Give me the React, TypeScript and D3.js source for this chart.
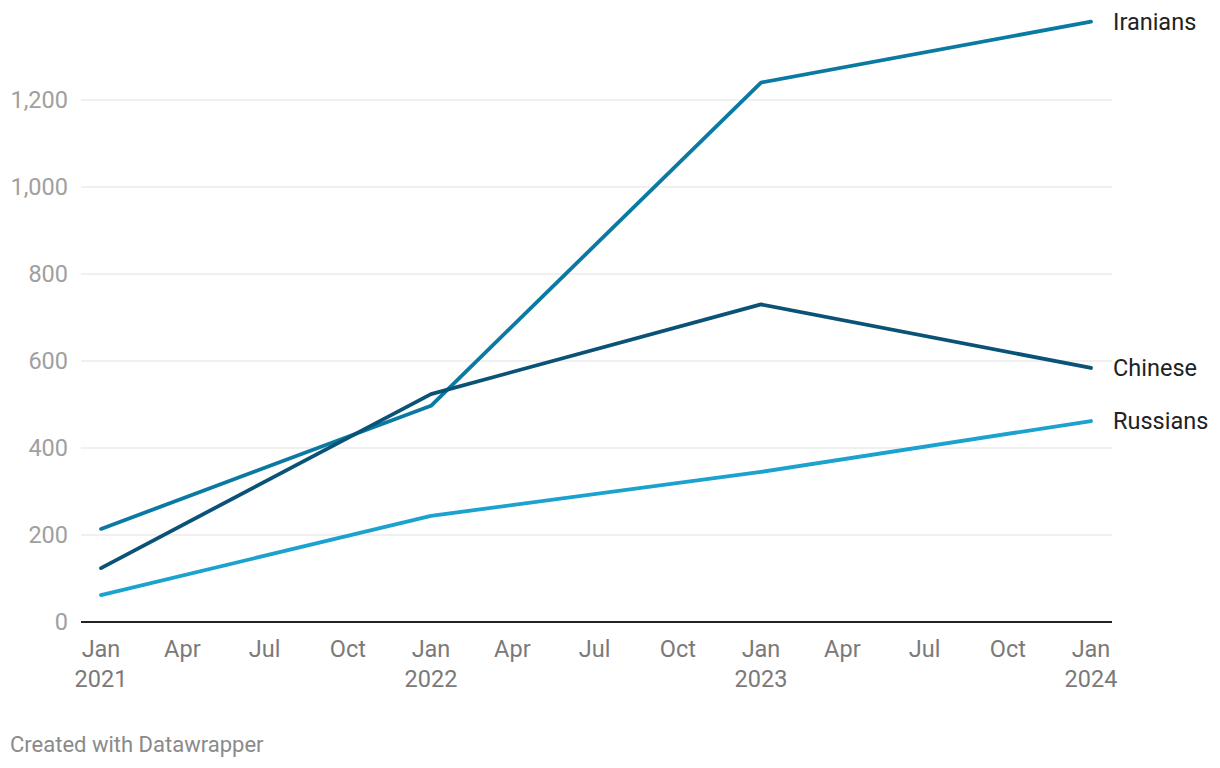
import * as d3 from 'd3'

// ── data ─────────────────────────────────────────────────────────────────────
const years     = [2021, 2022, 2023, 2024]
const iranians  = [214, 497, 1240, 1380]
const chinese   = [124, 524, 730, 584]
const russians  = [62, 244, 345, 462]
const yTicks    = [0, 200, 400, 600, 800, 1000, 1200]

const SERIES = [
  { name: 'Iranians', values: iranians, color: '#0a7aa3' },
  { name: 'Chinese',  values: chinese,  color: '#0b5277' },
  { name: 'Russians', values: russians, color: '#1ba2cf' },
]

// ── constants ────────────────────────────────────────────────────────────────
const W      = 1220
const H      = 768
const FONT   = 'Roboto, "Noto Sans", sans-serif'
const GRID_L = 81
const GRID_R = 1112

const x = d3.scaleTime()
  .domain([new Date(2021, 0, 1), new Date(2024, 0, 1)])
  .range([101, 1091])
const y = d3.scaleLinear().domain([0, 1200]).range([622, 100])

const monthTicks = x.ticks(d3.timeMonth.every(3)!)
const fmtMonth   = d3.timeFormat('%b')

export default function App() {
  const line = d3.line<{ date: Date; v: number }>()
    .x(d => x(d.date))
    .y(d => y(d.v))

  return (
    <svg width={W} height={H} style={{ position: 'absolute', left: 0, top: 0, display: 'block', background: '#fff' }}
      fontFamily={FONT}>
      {/* grid */}
      {yTicks.filter(t => t > 0).map(t => (
        <line key={t} x1={GRID_L} x2={GRID_R} y1={y(t)} y2={y(t)} stroke="#e1e1e1" strokeWidth={1} />
      ))}
      {yTicks.map(t => (
        <text key={t} x={68} y={y(t)} dy="0.36em" textAnchor="end" fontSize={23.5} fill="#a0a0a0">
          {d3.format(',')(t)}
        </text>
      ))}

      {/* x axis */}
      {monthTicks.map(d => (
        <text key={+d} x={x(d)} y={657} textAnchor="middle" fontSize={23.5} fill="#7a7a7a">
          <tspan x={x(d)}>{fmtMonth(d)}</tspan>
          {d.getMonth() === 0 && <tspan x={x(d)} dy={30}>{d.getFullYear()}</tspan>}
        </text>
      ))}

      {/* lines */}
      {SERIES.map(s => {
        const pts = s.values.map((v, i) => ({ date: new Date(years[i], 0, 1), v }))
        const last = pts[pts.length - 1]
        return (
          <g key={s.name}>
            <path d={line(pts) ?? ''} fill="none" stroke={s.color} strokeWidth={3.8}
              strokeLinejoin="round" strokeLinecap="round" />
            <text x={x(last.date) + 22} y={y(last.v)} dy="0.36em" fontSize={23.5} fill="#222">{s.name}</text>
          </g>
        )
      })}

      {/* baseline */}
      <line x1={GRID_L} x2={GRID_R} y1={y(0)} y2={y(0)} stroke="#222" strokeWidth={2} />

      <text x={10} y={752} fontSize={22} fill="#8a8a8a">Created with Datawrapper</text>
    </svg>
  )
}
